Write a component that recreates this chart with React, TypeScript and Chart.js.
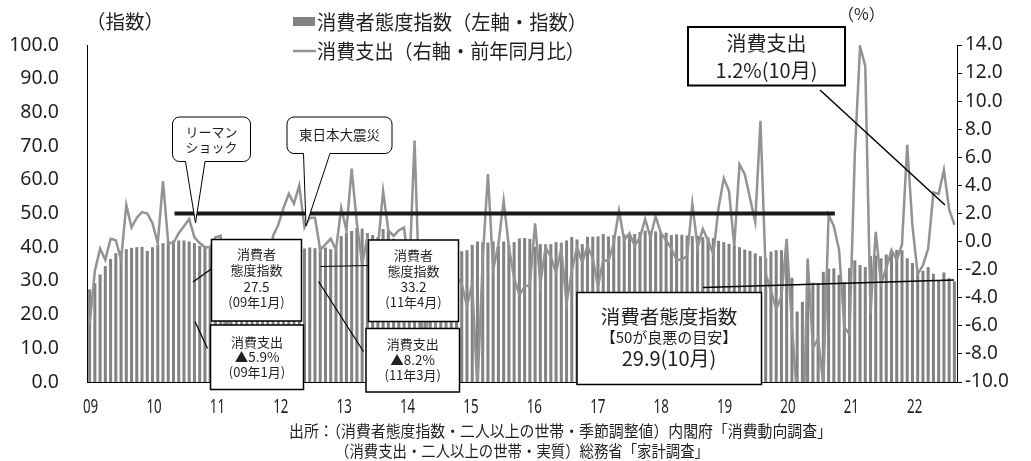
import React, { useEffect, useRef } from "react";
import { Chart, registerables } from "chart.js";

Chart.register(...registerables);

// ---------- data ----------
const YEAR_LABELS = ["09", "10", "11", "12", "13", "14", "15", "16", "17", "18", "19", "20", "21", "22"];
const MONTHS_IN_LAST_YEAR = 10;

// 消費者態度指数（左軸・指数） 2009/1 – 2022/10
const CONFIDENCE_INDEX = [
  27.5, 29.3, 31.9, 34.4, 36.5, 38.2, 38.9, 39.4, 39.8, 40.0, 40.1, 38.9,
  40.0, 40.7, 41.2, 41.7, 42.0, 42.0, 42.0, 41.7, 41.2, 40.4, 40.1, 40.1,
  40.6, 41.0, 38.4, 33.2, 34.6, 35.5, 36.5, 37.5, 38.2, 38.2, 38.0, 38.1,
  38.8, 39.3, 40.1, 40.1, 40.1, 39.6, 39.9, 39.7, 40.2, 39.9, 39.4, 39.5,
  43.3, 44.3, 44.8, 45.7, 45.5, 44.2, 43.6, 43.0, 45.4, 45.0, 42.5, 41.3,
  40.5, 38.3, 37.5, 37.0, 39.3, 41.1, 41.5, 41.2, 39.9, 38.9, 37.7, 38.8,
  39.1, 40.7, 41.7, 41.5, 41.4, 41.7, 40.3, 41.7, 40.6, 41.5, 42.6, 42.7,
  42.5, 40.1, 40.9, 40.8, 40.9, 41.5, 41.3, 42.0, 43.0, 42.3, 40.9, 43.1,
  43.1, 43.2, 43.9, 43.2, 43.6, 43.3, 43.8, 43.3, 43.9, 44.5, 44.9, 44.7,
  44.7, 44.3, 44.3, 43.6, 43.8, 43.7, 43.5, 43.3, 43.4, 43.0, 42.9, 42.7,
  41.9, 41.5, 41.0, 40.5, 40.0, 39.3, 38.9, 38.2, 37.3, 36.8, 38.7, 39.1,
  39.1, 38.4, 30.9, 20.9, 23.8, 28.4, 29.5, 29.3, 32.7, 33.6, 33.7, 31.8,
  29.6, 33.8, 36.1, 34.7, 34.1, 37.4, 37.5, 36.7, 37.8, 39.2, 39.2, 39.1,
  36.7, 35.3, 32.8, 33.0, 34.1, 32.1, 30.2, 32.5, 30.8, 29.9,
];

// 消費支出（右軸・前年同月比, %） 2009/1 – 2022/10
const SPENDING_YOY = [
  -5.9, -2.1, -0.5, -1.3, 0.2, 0.1, -1.3, 2.6, 1.0, 1.7, 2.1, 2.0,
  1.3, -0.1, 4.3, -0.1, -0.1, 0.6, 1.1, 1.6, 0.3, -0.1, -0.4, -0.4,
  0.3, 0.4, -8.2, -3.0, -1.9, -4.6, -2.1, -4.1, -1.9, -0.4, -2.3, 0.4,
  1.2, 2.4, 3.4, 2.7, 4.0, 1.0, 1.7, 1.7, -0.6, -0.2, 0.2, -0.6,
  2.4, 0.8, 5.2, 1.3, -1.6, 0.3, -0.6, -0.4, 3.6, 0.8, 0.4, 0.8,
  1.0, -2.2, 7.2, -4.6, -8.0, -3.0, -5.9, -4.7, -5.6, -4.0, -2.5, -3.0,
  -4.6, -3.0, -10.6, -1.3, 4.8, -2.0, -0.2, 2.9, -0.4, -2.6, -3.8, -3.2,
  -3.1, 1.3, -3.0, -0.4, -1.1, -2.2, -0.5, -4.4, -2.1, -0.4, -1.5, -0.3,
  -1.2, -3.2, -1.3, -1.4, -0.1, 2.2, 0.1, 0.6, -0.3, 0.3, 1.6, 0.3,
  1.8, 0.6, 0.1, -0.5, -1.3, -1.3, -1.0, 2.7, -0.4, 0.9, 0.1, -0.9,
  2.4, 4.5, 3.6, -0.3, 5.5, 4.8, 3.1, 1.4, 8.6, -2.3, -3.5, -4.8,
  -3.9, 0.2, -6.0, -11.1, -16.2, -1.2, -7.6, -6.9, -10.2, 1.9, 1.1, -0.6,
  -6.1, -6.6, 6.2, 13.9, 12.5, -5.1, 0.7, -3.0, -1.9, -0.6, -1.3, -0.2,
  6.9, 1.1, -2.3, -1.7, -0.5, 3.5, 3.4, 5.1, 2.3, 1.2,
];

const LEFT_AXIS = { min: 0, max: 100, step: 10 };
const RIGHT_AXIS = { min: -10, max: 14, step: 2 };
const GUIDE_VALUE = 50; // 50が良悪の目安
const GUIDE_FROM_INDEX = 16.2;
const GUIDE_TO_INDEX = 142.2;

const CATEGORIES: string[] = [];
YEAR_LABELS.forEach((y, yi) => {
  const n = yi === YEAR_LABELS.length - 1 ? MONTHS_IN_LAST_YEAR : 12;
  for (let m = 1; m <= n; m++) CATEGORIES.push(`${y}/${m}`);
});

// ---------- styling ----------
const JP = '"Noto Sans CJK JP", "Noto Sans", sans-serif';
const LAT = '"Noto Sans", sans-serif';
const TEXT = "#231f20";
const BAR_COLOR = "#838383";
const LINE_COLOR = "#939393";

type Ctx = CanvasRenderingContext2D;

function text(ctx: Ctx, s: string, x: number, y: number, font: string, align: CanvasTextAlign = "center", scaleX = 1) {
  ctx.save();
  ctx.font = font;
  ctx.fillStyle = TEXT;
  ctx.textAlign = align;
  ctx.textBaseline = "middle";
  ctx.translate(x, y);
  ctx.scale(scaleX, 1);
  ctx.fillText(s, 0, 0);
  ctx.restore();
}

function fitText(ctx: Ctx, s: string, x: number, y: number, font: string, width: number) {
  ctx.save();
  ctx.font = font;
  const w = ctx.measureText(s).width;
  ctx.restore();
  text(ctx, s, x, y, font, "left", width / w);
}

function line(ctx: Ctx, x0: number, y0: number, x1: number, y1: number, w = 1.2) {
  ctx.save();
  ctx.strokeStyle = "#000";
  ctx.lineWidth = w;
  ctx.beginPath();
  ctx.moveTo(x0, y0);
  ctx.lineTo(x1, y1);
  ctx.stroke();
  ctx.restore();
}

function box(ctx: Ctx, x0: number, y0: number, x1: number, y1: number, w = 1.5) {
  ctx.save();
  ctx.fillStyle = "#fff";
  ctx.fillRect(x0, y0, x1 - x0, y1 - y0);
  ctx.strokeStyle = "#000";
  ctx.lineWidth = w;
  ctx.strokeRect(x0, y0, x1 - x0, y1 - y0);
  ctx.restore();
}

function callout(ctx: Ctx, x0: number, y0: number, x1: number, y1: number, r: number, bl: number, br: number, tx: number, ty: number) {
  ctx.save();
  ctx.beginPath();
  ctx.moveTo(x0 + r, y0);
  ctx.lineTo(x1 - r, y0);
  ctx.arcTo(x1, y0, x1, y0 + r, r);
  ctx.lineTo(x1, y1 - r);
  ctx.arcTo(x1, y1, x1 - r, y1, r);
  ctx.lineTo(br, y1);
  ctx.lineTo(tx, ty);
  ctx.lineTo(bl, y1);
  ctx.lineTo(x0 + r, y1);
  ctx.arcTo(x0, y1, x0, y1 - r, r);
  ctx.lineTo(x0, y0 + r);
  ctx.arcTo(x0, y0, x0 + r, y0, r);
  ctx.closePath();
  ctx.fillStyle = "#fff";
  ctx.fill();
  ctx.strokeStyle = "#000";
  ctx.lineWidth = 1;
  ctx.stroke();
  ctx.restore();
}

const overlayPlugin = {
  id: "overlay",
  afterDatasetsDraw(chart: any) {
    const ctx: Ctx = chart.ctx;
    const xs = chart.scales.x;
    const yl = chart.scales.y;
    const gy = yl.getPixelForValue(GUIDE_VALUE);
    ctx.save();
    ctx.strokeStyle = "#1a1a1a";
    ctx.lineWidth = 4;
    ctx.beginPath();
    ctx.moveTo(xs.getPixelForValue(GUIDE_FROM_INDEX), gy);
    ctx.lineTo(xs.getPixelForValue(GUIDE_TO_INDEX), gy);
    ctx.stroke();
    ctx.restore();
  },
  afterDraw(chart: any) {
    const ctx: Ctx = chart.ctx;
    const xs = chart.scales.x;

    // axis unit labels
    text(ctx, "（指数）", 86, 22, `19.5px ${JP}`, "left");
    text(ctx, "（%）", 838, 14, `16px ${JP}`, "left");

    // legend
    ctx.save();
    ctx.fillStyle = BAR_COLOR;
    ctx.fillRect(293, 17, 22, 9);
    ctx.restore();
    fitText(ctx, "消費者態度指数（左軸・指数）", 317, 22, `20px ${JP}`, 270);
    ctx.save();
    ctx.strokeStyle = LINE_COLOR;
    ctx.lineWidth = 2.5;
    ctx.beginPath();
    ctx.moveTo(293, 51);
    ctx.lineTo(316, 51);
    ctx.stroke();
    ctx.restore();
    fitText(ctx, "消費支出（右軸・前年同月比）", 317, 51, `20px ${JP}`, 268);

    // x axis year labels
    YEAR_LABELS.forEach((lab, i) => {
      const px = xs.getPixelForValue(i * 12) + 1 + i * 0.5;
      text(ctx, lab, px, 408, `19px ${LAT}`, "center", 0.7);
    });

    // source
    fitText(ctx, "出所：（消費者態度指数・二人以上の世帯・季節調整値）内閣府「消費動向調査」", 289, 431, `16px ${JP}`, 543);
    fitText(ctx, "（消費支出・二人以上の世帯・実質）総務省「家計調査」", 335, 451, `16px ${JP}`, 374);

    // callouts
    callout(ctx, 172.5, 117, 250.5, 161.5, 7, 185.5, 205, 195.5, 223);
    text(ctx, "リーマン", 211.5, 132, `13px ${JP}`);
    text(ctx, "ショック", 211.5, 147.5, `13px ${JP}`);

    callout(ctx, 287, 117, 392, 153.5, 7, 303.5, 330, 306, 226);
    text(ctx, "東日本大震災", 339.5, 135, `13.5px ${JP}`);

    // leader lines
    line(ctx, 193, 282, 214, 267);
    line(ctx, 195, 321.5, 207.5, 348.5);
    line(ctx, 320.5, 266.5, 369, 265.5);
    line(ctx, 318.5, 281.5, 363.5, 351.5);
    line(ctx, 703, 287.5, 954, 280, 1.5);
    line(ctx, 820, 90, 945, 205, 1.5);

    // small boxes
    box(ctx, 211.5, 239.5, 301.5, 321);
    text(ctx, "消費者", 256.5, 254, `13px ${JP}`);
    text(ctx, "態度指数", 256.5, 270.5, `13px ${JP}`);
    text(ctx, "27.5", 256.5, 286.5, `13.5px ${JP}`);
    text(ctx, "(09年1月)", 256.5, 302, `13px ${JP}`);

    box(ctx, 210.5, 325, 303.5, 389.5);
    text(ctx, "消費支出", 257, 342, `13px ${JP}`);
    text(ctx, "▲5.9%", 257, 357, `13.5px ${JP}`);
    text(ctx, "(09年1月)", 257, 372.5, `13px ${JP}`);

    box(ctx, 368.5, 240, 458.5, 321.5);
    text(ctx, "消費者", 413.5, 255, `13px ${JP}`);
    text(ctx, "態度指数", 413.5, 271, `13px ${JP}`);
    text(ctx, "33.2", 413.5, 287, `13.5px ${JP}`);
    text(ctx, "(11年4月)", 413.5, 302.5, `13px ${JP}`);

    box(ctx, 366, 328.5, 459.5, 392);
    text(ctx, "消費支出", 412.7, 344, `13px ${JP}`);
    text(ctx, "▲8.2%", 412.7, 359.5, `13.5px ${JP}`);
    text(ctx, "(11年3月)", 412.7, 375, `13px ${JP}`);

    // big boxes
    box(ctx, 577, 292.5, 761.5, 384.5);
    text(ctx, "消費者態度指数", 669, 317, `19.5px ${JP}`);
    text(ctx, "【50が良悪の目安】", 669, 337.5, `15px ${JP}`);
    text(ctx, "29.9(10月)", 669, 358.5, `20px ${JP}`);

    box(ctx, 688, 27, 845, 85.5, 2);
    text(ctx, "消費支出", 766.5, 43.5, `20px ${JP}`);
    text(ctx, "1.2%(10月)", 766.5, 70, `20px ${JP}`);
  },
};

export default function App() {
  const ref = useRef<HTMLCanvasElement>(null);

  useEffect(() => {
    document.body.style.margin = "0";
    const canvas = ref.current;
    if (!canvas) return;
    const chart = new Chart(canvas, {
      type: "bar",
      data: {
        labels: CATEGORIES,
        datasets: [
          {
            type: "line",
            label: "消費支出（右軸・前年同月比）",
            data: SPENDING_YOY,
            yAxisID: "y1",
            borderColor: LINE_COLOR,
            borderWidth: 2.5,
            pointRadius: 0,
            tension: 0,
            order: 0,
          } as any,
          {
            type: "bar",
            label: "消費者態度指数（左軸・指数）",
            data: CONFIDENCE_INDEX,
            yAxisID: "y",
            backgroundColor: BAR_COLOR,
            borderWidth: 0,
            barPercentage: 0.58,
            categoryPercentage: 1.0,
            order: 1,
          },
        ],
      },
      options: {
        responsive: false,
        animation: false,
        devicePixelRatio: 1,
        layout: { padding: { top: 45, left: 0, right: 0, bottom: 0 } },
        plugins: { legend: { display: false }, tooltip: { enabled: false } },
        scales: {
          x: {
            type: "category",
            offset: true,
            grid: { display: false, drawTicks: false },
            border: { display: true, color: "#000", width: 1 },
            ticks: { display: false },
            afterFit: (s: any) => {
              s.height = 79;
            },
          },
          y: {
            position: "left",
            min: LEFT_AXIS.min,
            max: LEFT_AXIS.max,
            grid: { display: false, drawTicks: false },
            border: { display: true, color: "#000", width: 1 },
            ticks: {
              stepSize: LEFT_AXIS.step,
              padding: 28,
              color: TEXT,
              font: { family: LAT, size: 19.5 },
              callback: (v: any) => Number(v).toFixed(1),
            },
            afterFit: (s: any) => {
              s.width = 87;
            },
          },
          y1: {
            position: "right",
            min: RIGHT_AXIS.min,
            max: RIGHT_AXIS.max,
            grid: { display: true, drawOnChartArea: false, drawTicks: true, tickLength: 5, color: "#000", lineWidth: 1 },
            border: { display: true, color: "#000", width: 1 },
            ticks: {
              stepSize: RIGHT_AXIS.step,
              padding: 3,
              color: TEXT,
              font: { family: LAT, size: 19 },
              callback: (v: any) => Number(v).toFixed(1),
            },
            afterFit: (s: any) => {
              s.width = 74;
            },
          },
        },
      },
      plugins: [overlayPlugin],
    });
    return () => chart.destroy();
  }, []);

  return (
    <div style={{ width: 1031, height: 461, background: "#fff" }}>
      <canvas ref={ref} width={1031} height={461} style={{ display: "block", width: 1031, height: 461 }} />
    </div>
  );
}
